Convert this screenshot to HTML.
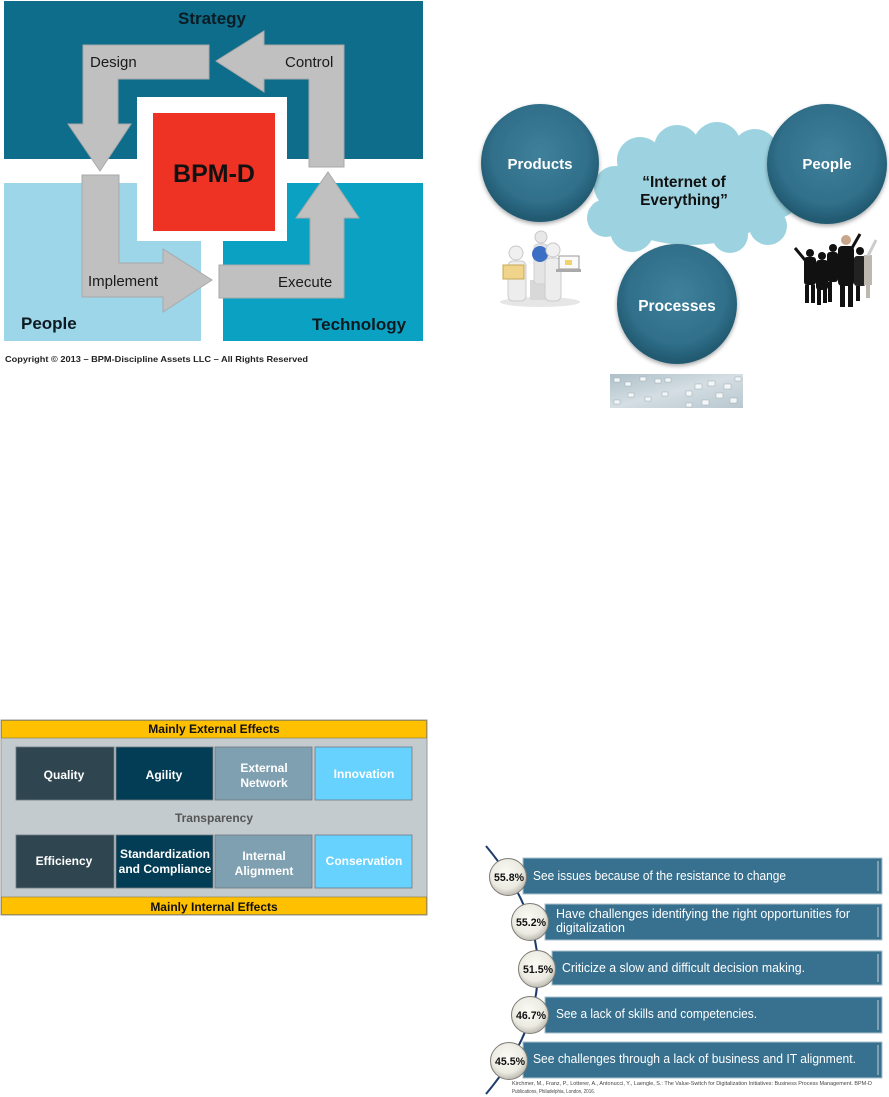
<!DOCTYPE html>
<html><head><meta charset="utf-8"><style>
html,body{margin:0;padding:0;background:#fff;}
svg{display:block;}
text{font-family:"Liberation Sans",Arial,sans-serif;}
</style></head><body>
<svg width="889" height="1097" viewBox="0 0 889 1097" xmlns="http://www.w3.org/2000/svg">
<defs>
<radialGradient id="cg" cx="50%" cy="42%" r="55%">
<stop offset="0" stop-color="#3f809b"/><stop offset="0.75" stop-color="#306f8a"/><stop offset="1" stop-color="#225a71"/>
</radialGradient>
<radialGradient id="pc" cx="45%" cy="40%" r="60%">
<stop offset="0" stop-color="#fbfaf4"/><stop offset="0.7" stop-color="#ecebe2"/><stop offset="1" stop-color="#bdbbb2"/>
</radialGradient>
<linearGradient id="proc" x1="0" y1="0" x2="1" y2="1">
<stop offset="0" stop-color="#aebfc8"/><stop offset="0.5" stop-color="#d4dee3"/><stop offset="1" stop-color="#b8c7cf"/>
</linearGradient>
<filter id="sh" x="-20%" y="-20%" width="140%" height="140%"><feGaussianBlur in="SourceAlpha" stdDeviation="2"/><feOffset dx="0" dy="2"/><feComponentTransfer><feFuncA type="linear" slope="0.35"/></feComponentTransfer><feMerge><feMergeNode/><feMergeNode in="SourceGraphic"/></feMerge></filter>
</defs>

<!-- ============ TOP LEFT: BPM-D ============ -->
<rect x="4" y="1" width="419" height="158" fill="#0d6d8a"/>
<rect x="4" y="183" width="197" height="158" fill="#9dd5e9"/>
<rect x="223" y="183" width="200" height="158" fill="#0ba1c2"/>
<rect x="137" y="97" width="150" height="144" fill="#fff"/>
<rect x="153" y="113" width="122" height="118" fill="#ee3224"/>
<text x="214" y="182" font-size="25" font-weight="bold" text-anchor="middle" fill="#111">BPM-D</text>
<text x="212" y="24" font-size="17" font-weight="bold" text-anchor="middle" fill="#0b1c24">Strategy</text>

<g fill="#c0c0c0" stroke="#a9a9a9" stroke-width="1">
<polygon points="83,45 209,45 209,79 118,79 118,124 131,124 100,171 68,124 83,124"/>
<polygon points="344,45 344,167 309,167 309,79 264,79 264,92 216,61 264,31 264,45"/>
<polygon points="82,175 119,175 119,263 163,263 163,249 212,280 163,312 163,297 82,297"/>
<polygon points="219,265 310,265 310,218 296,218 328,172 359,218 344,218 344,298 219,298"/>
</g>
<g font-size="15" fill="#1a1a1a">
<text x="90" y="67">Design</text>
<text x="285" y="67">Control</text>
<text x="88" y="286">Implement</text>
<text x="278" y="287">Execute</text>
</g>
<text x="21" y="329" font-size="17" font-weight="bold" fill="#0d1a20">People</text>
<text x="312" y="330" font-size="17" font-weight="bold" fill="#0d1a20">Technology</text>
<text x="5" y="362" font-size="8.4" font-weight="bold" fill="#222" textLength="303" lengthAdjust="spacingAndGlyphs">Copyright  © 2013 – BPM-Discipline Assets LLC – All Rights Reserved</text>

<!-- ============ TOP RIGHT: Internet of Everything ============ -->
<g fill="#9dd3e0">
<ellipse cx="690" cy="195" rx="90" ry="50"/>
<circle cx="640" cy="160" r="23"/>
<circle cx="677" cy="148" r="23"/>
<circle cx="717" cy="146" r="24"/>
<circle cx="755" cy="152" r="23"/>
<circle cx="615" cy="187" r="21"/>
<circle cx="606" cy="218" r="19"/>
<circle cx="632" cy="230" r="22"/>
<circle cx="778" cy="198" r="20"/>
<circle cx="768" cy="226" r="19"/>
<circle cx="730" cy="235" r="18"/>
</g>
<text x="684" y="187" font-size="15.5" font-weight="bold" text-anchor="middle" fill="#111">“Internet of</text>
<text x="684" y="205" font-size="15.5" font-weight="bold" text-anchor="middle" fill="#111">Everything”</text>

<g filter="url(#sh)">
<circle cx="540" cy="163" r="59" fill="url(#cg)"/>
<circle cx="827" cy="164" r="60" fill="url(#cg)"/>
<circle cx="677" cy="304" r="60" fill="url(#cg)"/>
</g>
<text x="540" y="169" font-size="15" font-weight="bold" text-anchor="middle" fill="#fff">Products</text>
<text x="827" y="169" font-size="15" font-weight="bold" text-anchor="middle" fill="#fff">People</text>
<text x="677" y="311" font-size="15.5" font-weight="bold" text-anchor="middle" fill="#fff">Processes</text>

<!-- products image -->
<g>
<ellipse cx="540" cy="302" rx="40" ry="5" fill="#e6e6e6"/>
<rect x="530" y="280" width="22" height="20" fill="#d8d8d8"/>
<circle cx="541" cy="237" r="6" fill="#e8e8e8" stroke="#c8c8c8"/>
<rect x="534" y="244" width="14" height="40" rx="4" fill="#e4e4e4" stroke="#cfcfcf"/>
<circle cx="540" cy="254" r="8" fill="#3b6fc4"/>
<circle cx="516" cy="253" r="7" fill="#f0f0f0" stroke="#c8c8c8"/>
<rect x="508" y="261" width="18" height="40" rx="5" fill="#ededed" stroke="#cccccc"/>
<rect x="503" y="265" width="21" height="14" fill="#efd48a" stroke="#c9a957"/>
<circle cx="553" cy="250" r="7" fill="#f0f0f0" stroke="#c8c8c8"/>
<rect x="545" y="258" width="16" height="43" rx="5" fill="#ededed" stroke="#cccccc"/>
<rect x="559" y="256" width="20" height="13" fill="#fafafa" stroke="#999"/>
<rect x="556" y="269" width="25" height="3" fill="#aaa"/>
<rect x="565" y="260" width="7" height="5" fill="#f2d26a"/>
</g>

<!-- people image -->
<g fill="#111">
<circle cx="810" cy="253" r="4"/><rect x="804" y="257" width="12" height="28" rx="3"/><rect x="805" y="285" width="4" height="18"/><rect x="811" y="285" width="4" height="18"/>
<line x1="805" y1="260" x2="795" y2="248" stroke="#111" stroke-width="3"/>
<circle cx="822" cy="256" r="4"/><rect x="816" y="260" width="12" height="30" rx="3"/><rect x="817" y="288" width="4" height="17"/><rect x="823" y="288" width="4" height="15"/>
<circle cx="833" cy="248" r="4"/><rect x="827" y="252" width="11" height="30" rx="3"/><rect x="828" y="282" width="4" height="20"/>
<circle cx="846" cy="240" r="5" fill="#c9a58a"/><rect x="838" y="246" width="16" height="40" rx="4"/><rect x="840" y="285" width="5" height="22"/><rect x="848" y="285" width="5" height="22"/>
<line x1="852" y1="248" x2="860" y2="234" stroke="#111" stroke-width="3"/>
<circle cx="860" cy="251" r="4"/><rect x="854" y="256" width="12" height="30" rx="3" fill="#222"/><rect x="856" y="286" width="4" height="15"/>
<rect x="864" y="255" width="8" height="30" fill="#bcb8b0"/><rect x="866" y="285" width="4" height="13" fill="#bcb8b0"/>
<line x1="868" y1="256" x2="876" y2="240" stroke="#ccc" stroke-width="3"/>
</g>

<!-- processes image -->
<rect x="610" y="374" width="133" height="34" fill="url(#proc)"/>
<g fill="#f4f7f8" stroke="#9aabb3" stroke-width="0.5">
<rect x="614" y="378" width="6" height="4"/><rect x="625" y="382" width="6" height="4"/><rect x="640" y="377" width="6" height="4"/><rect x="655" y="379" width="6" height="4"/><rect x="665" y="378" width="6" height="4"/>
<rect x="628" y="393" width="6" height="4"/><rect x="645" y="397" width="6" height="4"/><rect x="662" y="392" width="6" height="4"/><rect x="686" y="391" width="6" height="5"/>
<rect x="695" y="384" width="7" height="5"/><rect x="708" y="381" width="7" height="5"/><rect x="724" y="384" width="7" height="5"/><rect x="716" y="393" width="7" height="5"/><rect x="730" y="398" width="7" height="5"/>
<rect x="702" y="400" width="7" height="5"/><rect x="686" y="403" width="6" height="4"/><rect x="735" y="377" width="6" height="4"/><rect x="614" y="400" width="6" height="4"/>
</g>

<!-- ============ BOTTOM LEFT: effects table ============ -->
<rect x="1" y="720" width="426" height="195" fill="#c4cbce" stroke="#999" stroke-width="1"/>
<rect x="1.5" y="720.5" width="425" height="17.5" fill="#ffc000" stroke="#8a7a40" stroke-width="0.6"/>
<rect x="1.5" y="897" width="425" height="17.5" fill="#ffc000" stroke="#8a7a40" stroke-width="0.6"/>
<text x="214" y="733" font-size="12" font-weight="bold" text-anchor="middle" fill="#111">Mainly External Effects</text>
<text x="214" y="911" font-size="12" font-weight="bold" text-anchor="middle" fill="#111">Mainly Internal Effects</text>
<g stroke="#6e7a80" stroke-width="0.8">
<rect x="16" y="747" width="98" height="53" fill="#2f4550"/>
<rect x="116" y="747" width="97" height="53" fill="#033c55"/>
<rect x="215" y="747" width="97" height="53" fill="#7fa0b1"/>
<rect x="315" y="747" width="97" height="53" fill="#67d2fe"/>
<rect x="16" y="835" width="98" height="53" fill="#2f4550"/>
<rect x="116" y="835" width="97" height="53" fill="#033c55"/>
<rect x="215" y="835" width="97" height="53" fill="#7fa0b1"/>
<rect x="315" y="835" width="97" height="53" fill="#67d2fe"/>
</g>
<g font-size="12" font-weight="bold" fill="#fff" text-anchor="middle">
<text x="64" y="779">Quality</text>
<text x="164" y="779">Agility</text>
<text x="264" y="772">External</text>
<text x="264" y="787">Network</text>
<text x="364" y="778">Innovation</text>
<text x="64" y="865">Efficiency</text>
<text x="165" y="858">Standardization</text>
<text x="165" y="873">and Compliance</text>
<text x="264" y="860">Internal</text>
<text x="264" y="875">Alignment</text>
<text x="364" y="865">Conservation</text>
</g>
<text x="214" y="822" font-size="12" font-weight="bold" text-anchor="middle" fill="#555">Transparency</text>

<!-- ============ BOTTOM RIGHT: list ============ -->
<path d="M486,846 Q590,970 486,1094" fill="none" stroke="#1d3c6a" stroke-width="2"/>
<g fill="#37718f" stroke="#a9c1cd" stroke-width="1">
<rect x="523" y="858" width="359" height="36"/>
<rect x="545" y="904" width="337" height="36"/>
<rect x="552" y="951" width="330" height="34"/>
<rect x="545" y="997" width="337" height="36"/>
<rect x="523" y="1042" width="359" height="36"/>
</g>
<g stroke="#a9c1cd" stroke-width="1.2">
<line x1="878" y1="861" x2="878" y2="891"/>
<line x1="878" y1="907" x2="878" y2="937"/>
<line x1="878" y1="954" x2="878" y2="982"/>
<line x1="878" y1="1000" x2="878" y2="1030"/>
<line x1="878" y1="1045" x2="878" y2="1075"/>
</g>
<g font-size="13" fill="#fff">
<text x="533" y="880" textLength="253" lengthAdjust="spacingAndGlyphs">See issues because of the resistance to change</text>
<text x="556" y="918" textLength="294" lengthAdjust="spacingAndGlyphs">Have challenges identifying the right opportunities for</text>
<text x="556" y="932" textLength="69" lengthAdjust="spacingAndGlyphs">digitalization</text>
<text x="562" y="972" textLength="243" lengthAdjust="spacingAndGlyphs">Criticize a slow and difficult decision making.</text>
<text x="556" y="1018" textLength="201" lengthAdjust="spacingAndGlyphs">See a lack of skills and competencies.</text>
<text x="533" y="1063" textLength="323" lengthAdjust="spacingAndGlyphs">See challenges through a lack of business and IT alignment.</text>
</g>
<g fill="url(#pc)" stroke="#7d7b74" stroke-width="1">
<circle cx="508" cy="877" r="18.5"/>
<circle cx="530" cy="922" r="18.5"/>
<circle cx="537" cy="969" r="18.5"/>
<circle cx="530" cy="1015" r="18.5"/>
<circle cx="509" cy="1061" r="18.5"/>
</g>
<g font-size="11" font-weight="bold" fill="#111" text-anchor="middle">
<text x="509" y="881" textLength="30" lengthAdjust="spacingAndGlyphs">55.8%</text>
<text x="531" y="926" textLength="30" lengthAdjust="spacingAndGlyphs">55.2%</text>
<text x="538" y="973" textLength="30" lengthAdjust="spacingAndGlyphs">51.5%</text>
<text x="531" y="1019" textLength="30" lengthAdjust="spacingAndGlyphs">46.7%</text>
<text x="510" y="1065" textLength="30" lengthAdjust="spacingAndGlyphs">45.5%</text>
</g>
<g font-size="5.5" fill="#444">
<text x="512" y="1085" textLength="360" lengthAdjust="spacingAndGlyphs">Kirchmer, M., Franz, P., Lotterer, A., Antonucci, Y., Laengle, S.: The Value-Switch for Digitalization Initiatives: Business Process Management. BPM-D</text>
<text x="512" y="1093" textLength="83" lengthAdjust="spacingAndGlyphs">Publications, Philadelphia, London, 2016.</text>
</g>
</svg>
</body></html>
